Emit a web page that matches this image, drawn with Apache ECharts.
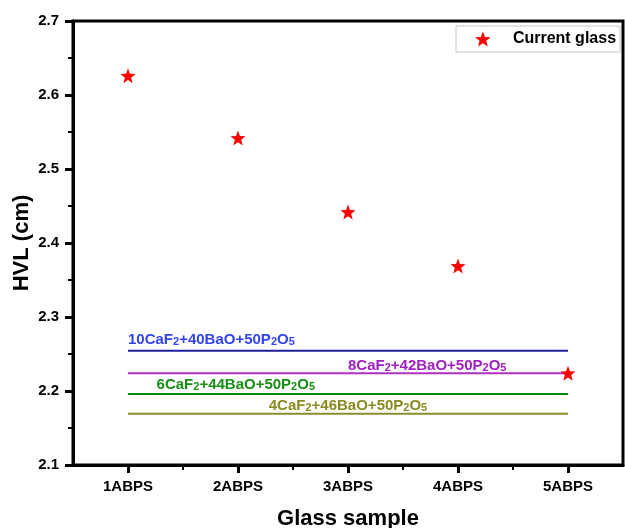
<!DOCTYPE html>
<html>
<head>
<meta charset="utf-8">
<script src="https://cdn.jsdelivr.net/npm/echarts@6/dist/echarts.min.js"></script>
<style>
  html, body { margin: 0; padding: 0; background: #fff; }
  #chart { width: 625px; height: 528px; }
</style>
</head>
<body>
<div id="chart"></div>
<script>
// glass samples and measured HVL
var samples = ['1ABPS', '2ABPS', '3ABPS', '4ABPS', '5ABPS'];
var sampleX = [1, 2, 3, 4, 5];
var hvl = [2.626, 2.542, 2.442, 2.369, 2.224];

// reference glasses (horizontal lines)
var refNames = [
  '{n|10CaF}{s|2}{n|+40BaO+50P}{s|2}{n|O}{s|5}',
  '{n|8CaF}{s|2}{n|+42BaO+50P}{s|2}{n|O}{s|5}',
  '{n|6CaF}{s|2}{n|+44BaO+50P}{s|2}{n|O}{s|5}',
  '{n|4CaF}{s|2}{n|+46BaO+50P}{s|2}{n|O}{s|5}'
];
var refHvl = [2.2545, 2.224, 2.196, 2.1693];
var lineColors = ['#1f1f9c', '#b030c4', '#0a8c0a', '#8c8c30'];
var textColors = ['#3344ee', '#a020c0', '#159015', '#8a8a20'];
var labelX = [1, 3.72, 1.98, 3.0];
var labelY = [2.270, 2.235, 2.209, 2.181];
var labelAlign = ['left', 'center', 'center', 'center'];

var font = 'Liberation Sans, Arial, sans-serif';

// five point star as a path symbol
function starPath() {
  var pts = [];
  for (var k = 0; k < 10; k++) {
    var r = k % 2 === 0 ? 50 : 21;
    var a = -Math.PI / 2 + k * Math.PI / 5;
    pts.push((50 + r * Math.cos(a)).toFixed(2) + ',' + (50 + r * Math.sin(a)).toFixed(2));
  }
  return 'path://M' + pts.join('L') + 'Z';
}
var STAR = starPath();

var myChart = echarts.init(document.getElementById('chart'));

var series = [];
for (var i = 0; i < refHvl.length; i++) {
  series.push({
    name: 'ref' + i,
    type: 'line',
    symbol: 'none',
    silent: true,
    lineStyle: { color: lineColors[i], width: 2 },
    data: sampleX.map(function(x) { return [x, refHvl[i]]; }),
    z: 2
  });
}
series.push({
  name: 'labels',
  type: 'scatter',
  symbolSize: 0,
  silent: true,
  itemStyle: { opacity: 1 },
  data: labelX.map(function(x, k) {
    return {
      value: [x, labelY[k]],
      label: { color: textColors[k], align: labelAlign[k], formatter: refNames[k] }
    };
  }),
  label: {
    show: true,
    position: 'inside',
    fontFamily: font,
    fontWeight: 'bold',
    rich: {
      n: { fontSize: 15, fontWeight: 'bold', fontFamily: font, lineHeight: 16, verticalAlign: 'bottom' },
      s: { fontSize: 11, fontWeight: 'bold', fontFamily: font, lineHeight: 11, verticalAlign: 'bottom' }
    }
  },
  z: 3
});
series.push({
  name: 'Current glass',
  type: 'scatter',
  symbol: STAR,
  symbolSize: 15,
  itemStyle: { color: '#ff0000', opacity: 1 },
  data: sampleX.map(function(x, k) { return [x, hvl[k]]; }),
  z: 5
});

var option = {
  backgroundColor: '#fff',
  animation: false,
  grid: {
    left: 73, top: 21, right: 2, bottom: 63,
    outerBoundsMode: 'none',
    show: true, borderColor: '#000', borderWidth: 3
  },
  legend: {
    data: [{ name: 'Current glass', icon: STAR }],
    left: 456, top: 26,
    padding: [5, 4, 5, 19],
    borderColor: '#c8c8c8', borderWidth: 1,
    itemWidth: 50, itemHeight: 15,
    itemGap: 5,
    textStyle: { fontFamily: font, fontWeight: 'bold', fontSize: 16, color: '#000' }
  },
  xAxis: [{
    type: 'value',
    min: 0.5, max: 5.5,
    position: 'bottom',
    name: 'Glass sample',
    nameLocation: 'middle',
    nameGap: 43,
    nameMoveOverlap: false,
    nameTextStyle: { fontFamily: font, fontWeight: 'bold', fontSize: 22, color: '#000' },
    axisLine: { lineStyle: { color: '#000', width: 3 } },
    axisTick: { show: true, length: 8, lineStyle: { width: 3, color: '#000' }, customValues: sampleX },
    axisLabel: {
      fontFamily: font, fontWeight: 'bold', fontSize: 15, color: '#000', margin: 14,
      customValues: sampleX,
      formatter: function(v) { return samples[Math.round(v) - 1] || ''; }
    },
    splitLine: { show: false }
  }, {
    type: 'value',
    min: 0.5, max: 5.5,
    position: 'bottom',
    axisLine: { show: false },
    axisTick: { show: true, length: 5, lineStyle: { width: 2, color: '#000' }, customValues: [1.5, 2.5, 3.5, 4.5] },
    axisLabel: { show: false },
    splitLine: { show: false }
  }],
  yAxis: {
    type: 'value',
    min: 2.1, max: 2.7, interval: 0.1,
    name: 'HVL (cm)',
    nameLocation: 'middle',
    nameGap: 40,
    nameMoveOverlap: false,
    nameTextStyle: { fontFamily: font, fontWeight: 'bold', fontSize: 22, color: '#000' },
    axisLine: { show: true, lineStyle: { color: '#000', width: 3 } },
    axisTick: { show: true, length: 8, lineStyle: { width: 3, color: '#000' } },
    minorTick: { show: true, splitNumber: 2, length: 5, lineStyle: { width: 2, color: '#000' } },
    axisLabel: {
      fontFamily: font, fontWeight: 'bold', fontSize: 15, color: '#000', margin: 14,
      formatter: function(v) { return v.toFixed(1); }
    },
    splitLine: { show: false }
  },
  series: series
};
myChart.setOption(option);
</script>
</body>
</html>
